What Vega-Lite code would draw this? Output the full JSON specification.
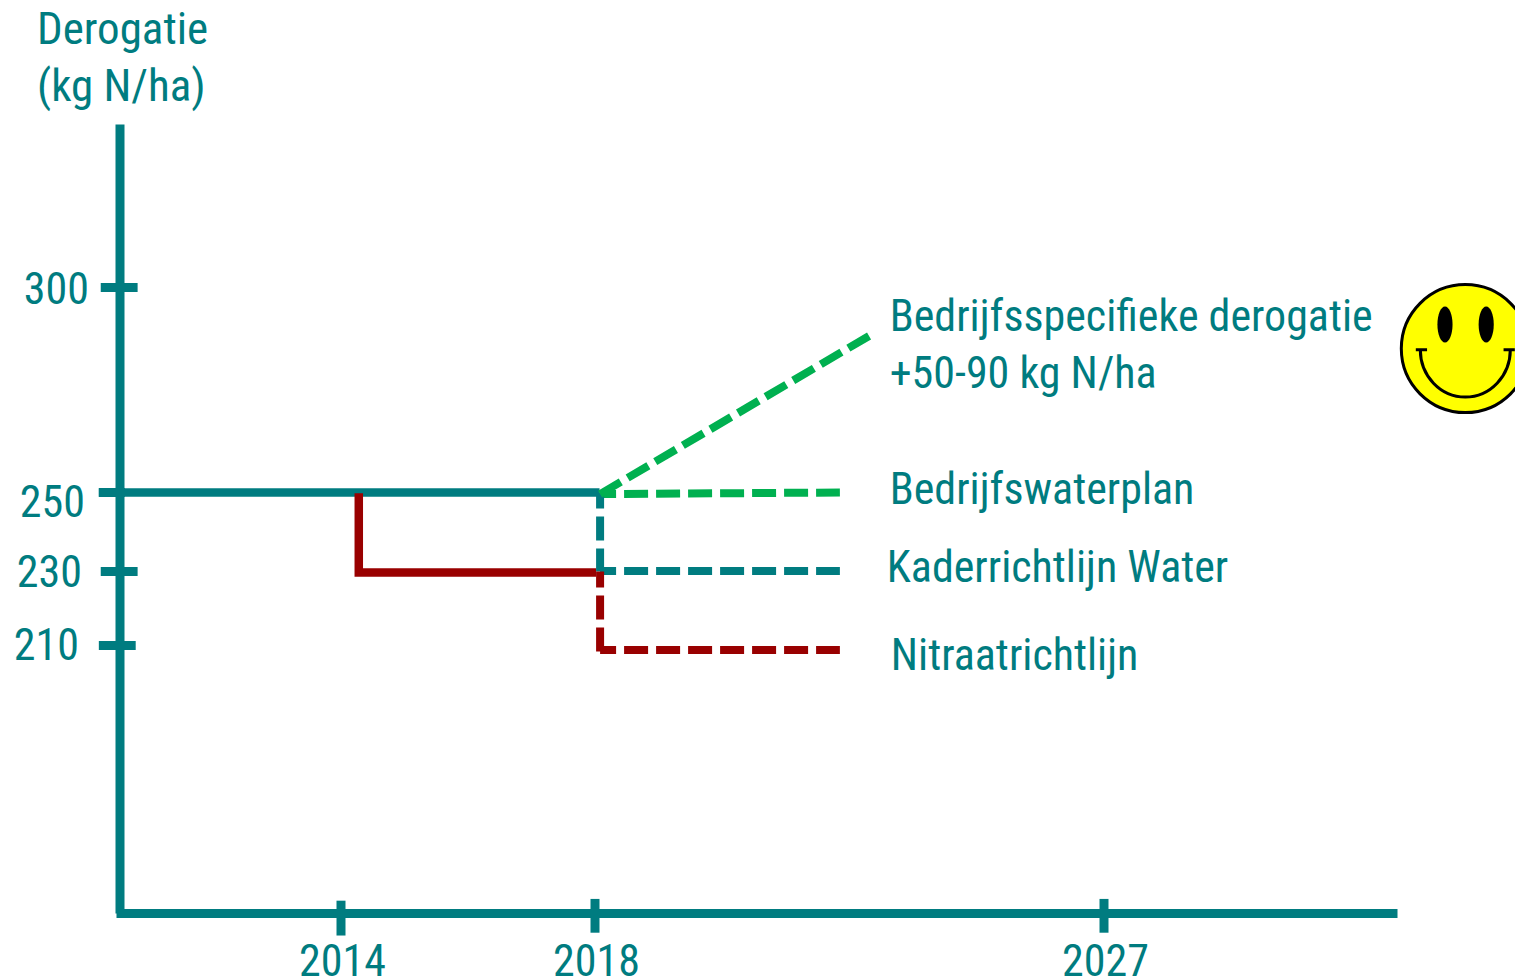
{"$schema":"https://vega.github.io/schema/vega-lite/v6.json","autosize":"none","padding":0,"width":1515,"height":980,"background":"white","config":{"view":{"stroke":null}},
"datasets":{"lines":[
{"series":"Basis","seg":"a","x":2010.19,"y":250,"o":1},{"series":"Basis","seg":"a","x":2018.08,"y":250,"o":2},
{"series":"Nitraat","seg":"a","x":2014.28,"y":249.8,"o":1},{"series":"Nitraat","seg":"a","x":2014.28,"y":229.75,"o":2},{"series":"Nitraat","seg":"a","x":2018.02,"y":229.75,"o":3}],
"dashed":[
{"series":"Bedrijfswaterplan","seg":"h","x":2018.09,"y":249.6,"o":1},{"series":"Bedrijfswaterplan","seg":"h","x":2022.33,"y":250,"o":2},
{"series":"KRW","seg":"v","x":2018.09,"y":250,"o":1},{"series":"KRW","seg":"v","x":2018.09,"y":230,"o":2},
{"series":"KRW","seg":"h","x":2018.09,"y":230.1,"o":1},{"series":"KRW","seg":"h","x":2022.33,"y":230.1,"o":2},
{"series":"Nitraatrichtlijn","seg":"v","x":2018.09,"y":230,"o":1},{"series":"Nitraatrichtlijn","seg":"v","x":2018.09,"y":208.2,"o":2},
{"series":"Nitraatrichtlijn","seg":"h","x":2018.09,"y":208.7,"o":1},{"series":"Nitraatrichtlijn","seg":"h","x":2022.33,"y":208.7,"o":2}],
"diagonal":[{"series":"Bedrijfsspecifiek","seg":"d","x":2018.09,"y":249.6,"o":1},{"series":"Bedrijfsspecifiek","seg":"d","x":2022.86,"y":288.3,"o":2}],
"yticks":[{"y":300,"x":2010.22,"x2":2010.8},{"y":250,"x":2010.19,"x2":2010.6},{"y":230,"x":2010.22,"x2":2010.8},{"y":210,"x":2010.19,"x2":2010.77}],
"xticks":[{"x":2014,"y":137.5,"y2":127.6},{"x":2018,"y":138,"y2":128.4},{"x":2027,"y":138,"y2":128.4}],
"labels":[
{"label":"Bedrijfsspecifieke derogatie","x":2023.21,"y":292.5},
{"label":"+50-90 kg N/ha","x":2023.21,"y":278.6},
{"label":"Bedrijfswaterplan","x":2023.21,"y":250.3},
{"label":"Kaderrichtlijn Water","x":2023.16,"y":230.6},
{"label":"Nitraatrichtlijn","x":2023.23,"y":206.6}],
"face":[{"x":2033.4,"y":285.1}],
"eyes":[{"x":2033.04,"y":291},{"x":2033.77,"y":291}],
"smile":[{"x":2033.4,"y":279.3}]},
"layer":[
{"data":{"name":"yticks"},"mark":{"type":"rule","color":"#007C80","strokeWidth":9},
"encoding":{"x":{"field":"x","type":"quantitative","scale":{"domain":[2010.46,2014,2018,2027,2032.19],"range":[116,341,595,1104,1397],"nice":false,"zero":false},
"axis":{"values":[2014,2018,2027],"orient":"bottom","offset":-67,"title":null,"grid":false,"ticks":false,"domainColor":"#007C80","domainWidth":9,"labelFont":"Roboto Condensed, Roboto","labelFontSize":44,"labelColor":"#007C80","labelPadding":27,"labelOffset":1,"format":"d","labelFlush":false,"labelOverlap":false}},
"y":{"field":"y","type":"quantitative","scale":{"domain":[134,210,230,250,300,340],"range":[913,645.5,571.5,492.5,287.5,124],"nice":false,"zero":false},
"axis":{"values":[210,230,250,300],"orient":"left","offset":-119.5,"title":["Derogatie","(kg N/ha)"],"titleAngle":0,"titleFont":"Roboto Condensed, Roboto","titleFontSize":45,"titleFontWeight":"normal","titleColor":"#007C80","titleX":-83,"titleY":43,"titleAlign":"left","titleBaseline":"alphabetic","titleLineHeight":57,"grid":false,"ticks":false,"domainColor":"#007C80","domainWidth":9,"labelFont":"Roboto Condensed, Roboto","labelFontSize":44,"labelColor":"#007C80","labelPadding":{"expr":"datum.value==300?31:datum.value==250?35:datum.value==230?38:41"},"labelOffset":{"expr":"datum.value==250?11:datum.value==230?2:datum.value==300?3:1"},"labelOverlap":false}},
"x2":{"field":"x2"}}},
{"data":{"name":"xticks"},"mark":{"type":"rule","color":"#007C80","strokeWidth":9},"encoding":{"x":{"field":"x","type":"quantitative"},"y":{"field":"y","type":"quantitative"},"y2":{"field":"y2"}}},
{"data":{"name":"lines"},"mark":{"type":"line","strokeWidth":8.5,"strokeJoin":"miter","strokeCap":"butt"},"encoding":{"x":{"field":"x","type":"quantitative"},"y":{"field":"y","type":"quantitative"},"order":{"field":"o"},"detail":{"field":"seg"},"color":{"field":"series","type":"nominal","scale":{"domain":["Basis","Nitraat","Bedrijfsspecifiek","Bedrijfswaterplan","KRW","Nitraatrichtlijn"],"range":["#007C80","#990000","#00B050","#00B050","#007C80","#990000"]},"legend":null}}},
{"data":{"name":"dashed"},"mark":{"type":"line","strokeWidth":8,"strokeDash":[24,8],"strokeDashOffset":8,"strokeCap":"butt"},"encoding":{"x":{"field":"x","type":"quantitative"},"y":{"field":"y","type":"quantitative"},"order":{"field":"o"},"detail":{"field":"seg"},"color":{"field":"series","type":"nominal","legend":null}}},
{"data":{"name":"diagonal"},"mark":{"type":"line","strokeWidth":8,"strokeDash":[24,8],"strokeCap":"butt"},"encoding":{"x":{"field":"x","type":"quantitative"},"y":{"field":"y","type":"quantitative"},"order":{"field":"o"},"color":{"field":"series","type":"nominal","legend":null}}},
{"data":{"name":"labels"},"mark":{"type":"text","align":"left","baseline":"middle","font":"Roboto Condensed, Roboto","fontSize":44,"color":"#007C80"},"encoding":{"x":{"field":"x","type":"quantitative"},"y":{"field":"y","type":"quantitative"},"text":{"field":"label"}}},
{"data":{"name":"face"},"mark":{"type":"point","shape":"circle","filled":true,"fill":"#FFFF00","stroke":"#000000","strokeWidth":3,"size":16384,"opacity":1},"encoding":{"x":{"field":"x","type":"quantitative"},"y":{"field":"y","type":"quantitative"}}},
{"data":{"name":"eyes"},"mark":{"type":"point","shape":"M -0.42 0 A 0.42 1 0 1 0 0.42 0 A 0.42 1 0 1 0 -0.42 0 Z","filled":true,"fill":"#000000","size":1296,"opacity":1},"encoding":{"x":{"field":"x","type":"quantitative"},"y":{"field":"y","type":"quantitative"}}},
{"data":{"name":"smile"},"mark":{"type":"point","shape":"M -1.1 -0.5 L -0.85 -0.5 M -1 -0.5 A 1 1.05 0 0 0 1 -0.5 M 0.85 -0.5 L 1.1 -0.5","filled":false,"stroke":"#000000","strokeWidth":3,"size":8100,"opacity":1},"encoding":{"x":{"field":"x","type":"quantitative"},"y":{"field":"y","type":"quantitative"}}}
]}
